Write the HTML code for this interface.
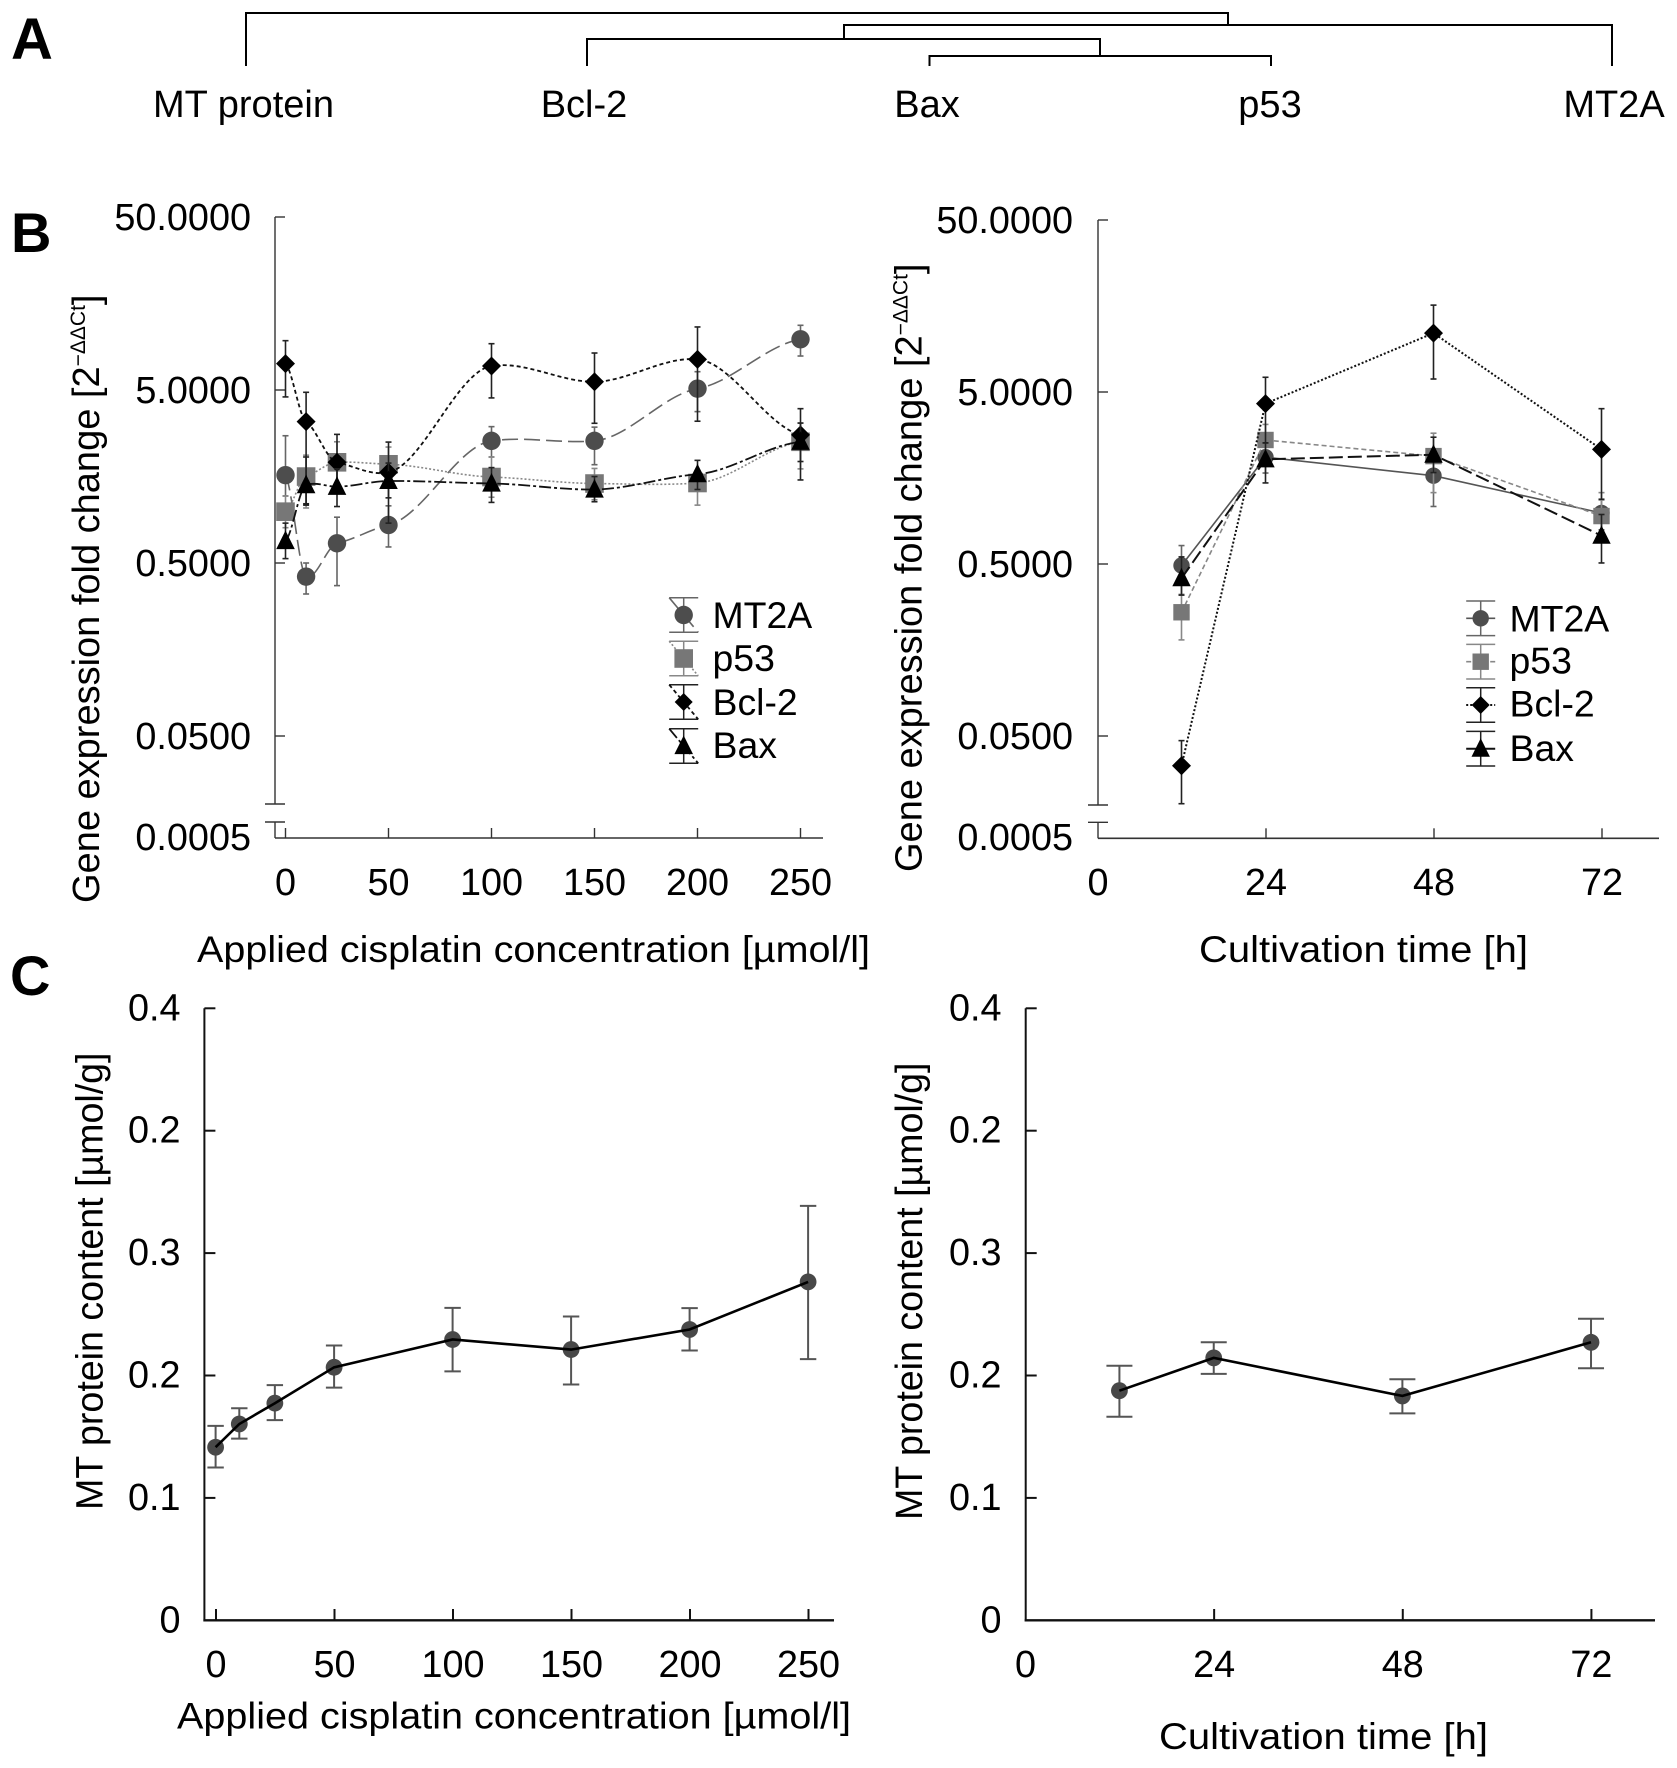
<!DOCTYPE html>
<html lang="en">
<head>
<meta charset="utf-8">
<title>Gene expression and MT protein content charts</title>
<style>
html,body{margin:0;padding:0;background:#fff;}
svg{display:block;}
text{font-family:"Liberation Sans",Arial,sans-serif;fill:#000;}
</style>
</head>
<body>
<svg id="figure" xmlns="http://www.w3.org/2000/svg" width="1677" height="1768" viewBox="0 0 1677 1768">
  <rect x="0" y="0" width="1677" height="1768" fill="#fff"/>

  <text x="11" y="59" font-size="58" font-weight="bold">A</text>
  <text x="11" y="252" font-size="56" font-weight="bold">B</text>
  <text x="10" y="995" font-size="56" font-weight="bold">C</text>

  <g fill="none" stroke="#000">
    <path d="M246 66V13H1228V25" stroke-width="2"/>
    <path d="M844 39V25H1612V66" stroke-width="2"/>
    <path d="M587 66V39H1100V56" stroke-width="2"/>
    <path d="M929.5 66V56H1271V66" stroke-width="2"/>
  </g>
  <g font-size="38" text-anchor="middle">
    <text x="243.5" y="117">MT protein</text>
    <text x="584" y="117">Bcl-2</text>
    <text x="927" y="117">Bax</text>
    <text x="1270" y="117">p53</text>
    <text x="1614" y="117">MT2A</text>
  </g>

  <text transform="translate(99,903) rotate(-90)" font-size="38">Gene expression fold change [2<tspan font-size="21" dy="-14">−ΔΔCt</tspan><tspan dy="14">]</tspan></text>
  <text transform="translate(921.7,872) rotate(-90)" font-size="38">Gene expression fold change [2<tspan font-size="21" dy="-14">−ΔΔCt</tspan><tspan dy="14">]</tspan></text>
  <text x="197" y="962" font-size="37" textLength="673" lengthAdjust="spacingAndGlyphs">Applied cisplatin concentration [µmol/l]</text>
  <text x="1199" y="962" font-size="37" textLength="329" lengthAdjust="spacingAndGlyphs">Cultivation time [h]</text>

  <text transform="translate(102.7,1510)  rotate(-90)" font-size="37.6">MT protein content [µmol/g]</text>
  <text transform="translate(921.8,1520) rotate(-90)" font-size="37.6">MT protein content [µmol/g]</text>
  <text x="177" y="1728.5" font-size="37" textLength="674" lengthAdjust="spacingAndGlyphs">Applied cisplatin concentration [µmol/l]</text>
  <text x="1159" y="1749" font-size="37" textLength="329" lengthAdjust="spacingAndGlyphs">Cultivation time [h]</text>
</svg>

<script>
// ---------- Panel B, left: gene expression vs cisplatin dose ----------
const bDoseCategories = [0, 10, 25, 50, 100, 150, 200, 250];
const bDoseTickValues = [0, 50, 100, 150, 200, 250];
const bDoseMt2aMean  = [1.61, 0.417, 0.65, 0.829, 2.54, 2.54, 5.09, 9.82];
const bDoseMt2aUpper = [2.72, 0.5, 0.92, 1.07, 3.07, 3.05, 6.38, 11.83];
const bDoseMt2aLower = [1.22, 0.331, 0.37, 0.619, 2.05, 1.85, 3.75, 7.86];
const bDoseP53Mean   = [0.99, 1.58, 1.91, 1.86, 1.57, 1.44, 1.45, 2.51];
const bDoseP53Upper  = [1.22, 2.10, 2.51, 2.34, 2.05, 1.76, 1.66, 3.22];
const bDoseP53Lower  = [0.80, 1.04, 1.45, 1.45, 1.20, 1.16, 1.08, 1.75];
const bDoseBcl2Mean  = [7.10, 3.28, 1.91, 1.67, 6.88, 5.58, 7.52, 2.75];
const bDoseBcl2Upper = [9.64, 4.85, 2.77, 2.50, 9.26, 8.18, 11.57, 3.90];
const bDoseBcl2Lower = [4.56, 1.08, 1.45, 0.85, 4.50, 3.21, 3.30, 1.93];
const bDoseBaxMean   = [0.67, 1.41, 1.38, 1.49, 1.44, 1.33, 1.63, 2.51];
const bDoseBaxUpper  = [0.85, 2.05, 1.75, 1.89, 1.78, 1.58, 1.96, 3.22];
const bDoseBaxLower  = [0.53, 1.10, 1.06, 1.19, 1.12, 1.13, 1.33, 1.51];

// ---------- Panel B, right: gene expression vs cultivation time ----------
const bTimeCategories = [12, 24, 48, 72];
const bTimeTickValues = [0, 24, 48, 72];
const bTimeMt2aMean  = [0.49, 2.09, 1.63, 0.99];
const bTimeMt2aUpper = [0.64, 2.53, 1.93, 1.18];
const bTimeMt2aLower = [0.33, 1.69, 1.08, 0.79];
const bTimeP53Mean   = [0.262, 2.63, 2.12, 0.95];
const bTimeP53Upper  = [0.333, 3.24, 2.88, 1.30];
const bTimeP53Lower  = [0.181, 2.10, 1.30, 0.76];
const bTimeBcl2Mean  = [0.0336, 4.28, 11.0, 2.32];
const bTimeBcl2Upper = [0.047, 6.09, 16.0, 4.0];
const bTimeBcl2Lower = [0.0202, 2.53, 5.95, 1.19];
const bTimeBaxMean   = [0.413, 2.03, 2.16, 0.73];
const bTimeBaxUpper  = [0.55, 2.53, 2.73, 0.97];
const bTimeBaxLower  = [0.33, 1.48, 1.70, 0.507];

const bLogTickValues = [50, 5, 0.5, 0.05];
const bLogTickLabels = ["50.0000", "5.0000", "0.5000", "0.0500"];
const bBreakTickLabel = "0.0005";
const bSeriesNames = ["MT2A", "p53", "Bcl-2", "Bax"];

// ---------- Panel C: MT protein content ----------
const cDoseCategories = [0, 10, 25, 50, 100, 150, 200, 250];
const cDoseTickValues = [0, 50, 100, 150, 200, 250];
const cDoseMean  = [0.1414, 0.1604, 0.1774, 0.2067, 0.2294, 0.2212, 0.2376, 0.2765];
const cDoseUpper = [0.1588, 0.1732, 0.1921, 0.2245, 0.2552, 0.2482, 0.2550, 0.3386];
const cDoseLower = [0.1248, 0.1484, 0.1635, 0.1901, 0.2034, 0.1926, 0.2204, 0.2134];
const cTimeCategories = [12, 24, 48, 72];
const cTimeTickValues = [0, 24, 48, 72];
const cTimeMean  = [0.1876, 0.2144, 0.1833, 0.2271];
const cTimeUpper = [0.2080, 0.2272, 0.1969, 0.2464];
const cTimeLower = [0.1663, 0.2013, 0.1691, 0.2059];
const cYTickValues = [0, 0.1, 0.2, 0.3, 0.4, 0.5];
const cYTickLabels = ["0", "0.1", "0.2", "0.3", "0.2", "0.4"];

const NS = "http://www.w3.org/2000/svg";
const svg = document.getElementById("figure");

function group(name) {
  const el = document.createElementNS(NS, "g");
  
  
  svg.appendChild(el);
  return el;
}
function line(parent, x1, y1, x2, y2, stroke, width, name, dash) {
  const el = document.createElementNS(NS, "line");
  el.setAttribute("x1", x1);
  el.setAttribute("y1", y1);
  el.setAttribute("x2", x2);
  el.setAttribute("y2", y2);
  el.setAttribute("stroke", stroke);
  el.setAttribute("stroke-width", width);
  if (dash) el.setAttribute("stroke-dasharray", dash);
  
  
  parent.appendChild(el);
  return el;
}
function label(parent, x, y, str, anchor, size, name) {
  const el = document.createElementNS(NS, "text");
  el.setAttribute("x", x);
  el.setAttribute("y", y);
  el.setAttribute("text-anchor", anchor);
  el.setAttribute("font-size", size);
  el.textContent = str;
  
  
  parent.appendChild(el);
  return el;
}
function pathEl(parent, d, stroke, width, dash, name) {
  const el = document.createElementNS(NS, "path");
  el.setAttribute("d", d);
  el.setAttribute("fill", "none");
  el.setAttribute("stroke", stroke);
  el.setAttribute("stroke-width", width);
  if (dash) el.setAttribute("stroke-dasharray", dash);
  
  
  parent.appendChild(el);
  return el;
}
function marker(parent, kind, x, y, fill, r, name) {
  let el;
  if (kind === "circle") {
    el = document.createElementNS(NS, "circle");
    el.setAttribute("cx", x);
    el.setAttribute("cy", y);
    el.setAttribute("r", r);
  } else if (kind === "square") {
    el = document.createElementNS(NS, "rect");
    el.setAttribute("x", x - r);
    el.setAttribute("y", y - r);
    el.setAttribute("width", 2 * r);
    el.setAttribute("height", 2 * r);
  } else if (kind === "diamond") {
    el = document.createElementNS(NS, "polygon");
    el.setAttribute("points", [[x, y - r], [x + r, y], [x, y + r], [x - r, y]].join(" "));
  } else {
    el = document.createElementNS(NS, "polygon");
    el.setAttribute("points", [[x, y - r * 1.13], [x + r, y + r * 0.87], [x - r, y + r * 0.87]].join(" "));
  }
  el.setAttribute("fill", fill);
  
  
  parent.appendChild(el);
  return el;
}
function straightPath(pts) {
  return pts.map((p, i) => (i ? "L" : "M") + p[0].toFixed(1) + " " + p[1].toFixed(1)).join("");
}
function smoothPath(pts) {
  const slope = i => {
    const a = pts[Math.max(i - 1, 0)], b = pts[Math.min(i + 1, pts.length - 1)];
    return 0.35 * (b[1] - a[1]) / (b[0] - a[0]);
  };
  let d = "M" + pts[0][0].toFixed(1) + " " + pts[0][1].toFixed(1);
  for (let i = 0; i < pts.length - 1; i++) {
    const p1 = pts[i], p2 = pts[i + 1], dx = (p2[0] - p1[0]) / 3;
    const c1 = [p1[0] + dx, p1[1] + slope(i) * dx];
    const c2 = [p2[0] - dx, p2[1] - slope(i + 1) * dx];
    d += "C" + [c1[0], c1[1], c2[0], c2[1], p2[0], p2[1]].map(v => v.toFixed(1)).join(" ");
  }
  return d;
}

// ---------- Log-scale panels ----------
function drawLogPanel(cfg) {
  const g = group(cfg.id);
  const xPos = v => cfg.x0 + cfg.xScale * v;
  const yPos = v => cfg.y5 - cfg.decade * Math.log10(v / 5);
  const axisCol = "#333";

  line(g, cfg.axisX, yPos(50), cfg.axisX, cfg.breakTop, axisCol, 1.4, cfg.id + "-y-axis-upper");
  line(g, cfg.axisX, cfg.breakBottom, cfg.axisX, cfg.axisY, axisCol, 1.4, cfg.id + "-y-axis-lower");
  line(g, cfg.axisX - 10, cfg.breakTop, cfg.axisX + 10, cfg.breakTop, axisCol, 1.4, cfg.id + "-axis-break-top");
  line(g, cfg.axisX - 10, cfg.breakBottom, cfg.axisX + 10, cfg.breakBottom, axisCol, 1.4, cfg.id + "-axis-break-bottom");
  line(g, cfg.axisX, cfg.axisY, cfg.xEnd, cfg.axisY, axisCol, 1.6, cfg.id + "-x-axis");

  bLogTickValues.forEach((v, i) => {
    line(g, cfg.axisX, yPos(v), cfg.axisX + 10, yPos(v), axisCol, 1.4, cfg.id + "-y-tick");
    label(g, cfg.yLabelX, yPos(v) + 13, bLogTickLabels[i], "end", 37.8, cfg.id + "-y-tick-label");
  });
  label(g, cfg.yLabelX, 850, bBreakTickLabel, "end", 37.8, cfg.id + "-y-tick-label");

  cfg.ticks.forEach(v => {
    if (v !== 0 || cfg.tickAtZero) line(g, xPos(v), cfg.axisY - 10, xPos(v), cfg.axisY, axisCol, 1.4, cfg.id + "-x-tick");
    label(g, xPos(v), 895, String(v), "middle", 37.8, cfg.id + "-x-tick-label");
  });

  cfg.series.forEach(s => {
    const sg = group(cfg.id + "-series-" + s.key);
    g.appendChild(sg);
    const pts = cfg.cats.map((c, i) => [xPos(c) + cfg.pointShift, yPos(s.mean[i])]);
    pathEl(sg, cfg.smooth ? smoothPath(pts) : straightPath(pts), s.lineCol, s.lineW, s.dash, cfg.id + "-line-" + s.key);
    cfg.cats.forEach((c, i) => {
      const x = pts[i][0];
      const yT = yPos(s.upper[i]), yB = yPos(s.lower[i]);
      line(sg, x, yT, x, yB, s.errCol, 1.6, cfg.id + "-error-bar-" + s.key);
      line(sg, x - 3, yT, x + 3, yT, s.errCol, 1.6, cfg.id + "-error-cap-" + s.key);
      line(sg, x - 3, yB, x + 3, yB, s.errCol, 1.6, cfg.id + "-error-cap-" + s.key);
    });
    cfg.cats.forEach((c, i) => {
      marker(sg, s.kind, pts[i][0], pts[i][1], s.fill, s.size, cfg.id + "-point-" + s.key);
    });
  });

  const lg = group(cfg.id + "-legend");
  g.appendChild(lg);
  cfg.series.forEach((s, i) => {
    const cy = cfg.legendCY[i];
    const x = cfg.legendX;
    const row = group(cfg.id + "-legend-entry-" + s.key);
    lg.appendChild(row);
    line(row, x, cy - 17.3, x, cy + 17.3, s.errCol, 1.5, cfg.id + "-legend-error-bar");
    line(row, x - 14.5, cy - 17.3, x + 14.5, cy - 17.3, s.errCol, 1.5, cfg.id + "-legend-cap");
    line(row, x - 14.5, cy + 17.3, x + 14.5, cy + 17.3, s.errCol, 1.5, cfg.id + "-legend-cap");
    if (cfg.legendDiagonal) line(row, x - 14.5, cy - 17.3, x + 14.5, cy + 17.3, s.lineCol, s.lineW, cfg.id + "-legend-line", s.dash);
    else line(row, x - 14.5, cy, x + 14.5, cy, s.lineCol, s.lineW, cfg.id + "-legend-line", s.dash);
    marker(row, s.kind, x, cy, s.fill, s.legendSize, cfg.id + "-legend-marker");
    label(row, cfg.legendTextX, cfg.legendBase[i], bSeriesNames[i], "start", 37.4, cfg.id + "-legend-label");
  });
}

drawLogPanel({
  id: "b-left", axisX: 275, axisY: 838, xEnd: 823, breakTop: 804, breakBottom: 822,
  x0: 285.5, pointShift: 0, xScale: 2.06, y5: 390, decade: 173, yLabelX: 251, smooth: true, tickAtZero: true,
  cats: bDoseCategories, ticks: bDoseTickValues, legendDiagonal: true,
  legendX: 683.7, legendTextX: 712.5,
  legendCY: [615, 658.5, 702, 746], legendBase: [628, 671, 715, 758],
  series: [
    {key:"mt2a", kind:"circle", fill:"#4d4d4d", size:9.2, legendSize:9.2, lineCol:"#666", lineW:1.6, dash:"16 6", errCol:"#666", mean:bDoseMt2aMean, upper:bDoseMt2aUpper, lower:bDoseMt2aLower},
    {key:"p53", kind:"square", fill:"#777", size:9.3, legendSize:9.3, lineCol:"#888", lineW:1.6, dash:"2 2", errCol:"#888", mean:bDoseP53Mean, upper:bDoseP53Upper, lower:bDoseP53Lower},
    {key:"bcl-2", kind:"diamond", fill:"#000", size:9.5, legendSize:9, lineCol:"#111", lineW:1.8, dash:"4 3", errCol:"#222", mean:bDoseBcl2Mean, upper:bDoseBcl2Upper, lower:bDoseBcl2Lower},
    {key:"bax", kind:"triangle", fill:"#000", size:9.3, legendSize:9.3, lineCol:"#111", lineW:1.8, dash:"12 3 3 3", errCol:"#222", mean:bDoseBaxMean, upper:bDoseBaxUpper, lower:bDoseBaxLower}
  ]
});

drawLogPanel({
  id: "b-right", axisX: 1098, axisY: 838.3, xEnd: 1659, breakTop: 805, breakBottom: 822.3,
  x0: 1098, pointShift: -0.5, xScale: 7.0, y5: 392, decade: 172, yLabelX: 1073, smooth: false, tickAtZero: false,
  cats: bTimeCategories, ticks: bTimeTickValues, legendDiagonal: false,
  legendX: 1480.7, legendTextX: 1509.5,
  legendCY: [618.3, 661.7, 705, 748.7], legendBase: [631.7, 673.5, 716.7, 761],
  series: [
    {key:"mt2a", kind:"circle", fill:"#4d4d4d", size:8.2, legendSize:8.2, lineCol:"#555", lineW:1.6, dash:"", errCol:"#666", mean:bTimeMt2aMean, upper:bTimeMt2aUpper, lower:bTimeMt2aLower},
    {key:"p53", kind:"square", fill:"#777", size:8.2, legendSize:8.2, lineCol:"#888", lineW:1.6, dash:"5 3", errCol:"#888", mean:bTimeP53Mean, upper:bTimeP53Upper, lower:bTimeP53Lower},
    {key:"bcl-2", kind:"diamond", fill:"#000", size:9.5, legendSize:9, lineCol:"#111", lineW:2, dash:"2 2", errCol:"#222", mean:bTimeBcl2Mean, upper:bTimeBcl2Upper, lower:bTimeBcl2Lower},
    {key:"bax", kind:"triangle", fill:"#000", size:9.2, legendSize:9.2, lineCol:"#111", lineW:2, dash:"14 5", errCol:"#222", mean:bTimeBaxMean, upper:bTimeBaxUpper, lower:bTimeBaxLower}
  ]
});

// ---------- Linear panels ----------
function drawLinearPanel(cfg) {
  const g = group(cfg.id);
  const xPos = v => cfg.x0 + cfg.xScale * v;
  const yPos = v => 1620.3 - 1224 * v;

  line(g, cfg.axisX, yPos(0.5), cfg.axisX, 1621.5, "#111", 2, cfg.id + "-y-axis");
  line(g, cfg.axisX - 1, 1620.3, cfg.xEnd, 1620.3, "#111", 2.4, cfg.id + "-x-axis");

  cYTickValues.forEach((v, i) => {
    if (v > 0) line(g, cfg.axisX, yPos(v), cfg.axisX + 11, yPos(v), "#111", 2, cfg.id + "-y-tick");
    label(g, cfg.yLabelX, yPos(v) + 12, cYTickLabels[i], "end", 37.8, cfg.id + "-y-tick-label");
  });
  cfg.ticks.forEach(v => {
    if (v !== 0 || cfg.tickAtZero) line(g, xPos(v), 1609, xPos(v), 1620.3, "#111", 2, cfg.id + "-x-tick");
    label(g, xPos(v), 1677, String(v), "middle", 37.8, cfg.id + "-x-tick-label");
  });

  const pts = cfg.cats.map((c, i) => [xPos(c) - 0.4, yPos(cfg.mean[i])]);
  cfg.cats.forEach((c, i) => {
    const x = pts[i][0], yT = yPos(cfg.upper[i]), yB = yPos(cfg.lower[i]);
    line(g, x, yT, x, yB, "#555", 2, cfg.id + "-error-bar");
    line(g, x - cfg.capHalf, yT, x + cfg.capHalf, yT, "#555", 2, cfg.id + "-error-cap");
    line(g, x - cfg.capHalf, yB, x + cfg.capHalf, yB, "#555", 2, cfg.id + "-error-cap");
  });
  cfg.cats.forEach((c, i) => {
    marker(g, "circle", pts[i][0], pts[i][1], "#484848", 8.4, cfg.id + "-point");
  });
  pathEl(g, straightPath(pts), "#000", 2.6, "", cfg.id + "-line");
}

drawLinearPanel({
  id: "c-left", axisX: 204.4, xEnd: 834, x0: 216, xScale: 2.37, yLabelX: 180.5, capHalf: 8.2, tickAtZero: true,
  cats: cDoseCategories, ticks: cDoseTickValues, mean: cDoseMean, upper: cDoseUpper, lower: cDoseLower
});
drawLinearPanel({
  id: "c-right", axisX: 1025.7, xEnd: 1655, x0: 1025.5, xScale: 7.86, yLabelX: 1001.5, capHalf: 13, tickAtZero: false,
  cats: cTimeCategories, ticks: cTimeTickValues, mean: cTimeMean, upper: cTimeUpper, lower: cTimeLower
});
</script>
</body>
</html>
